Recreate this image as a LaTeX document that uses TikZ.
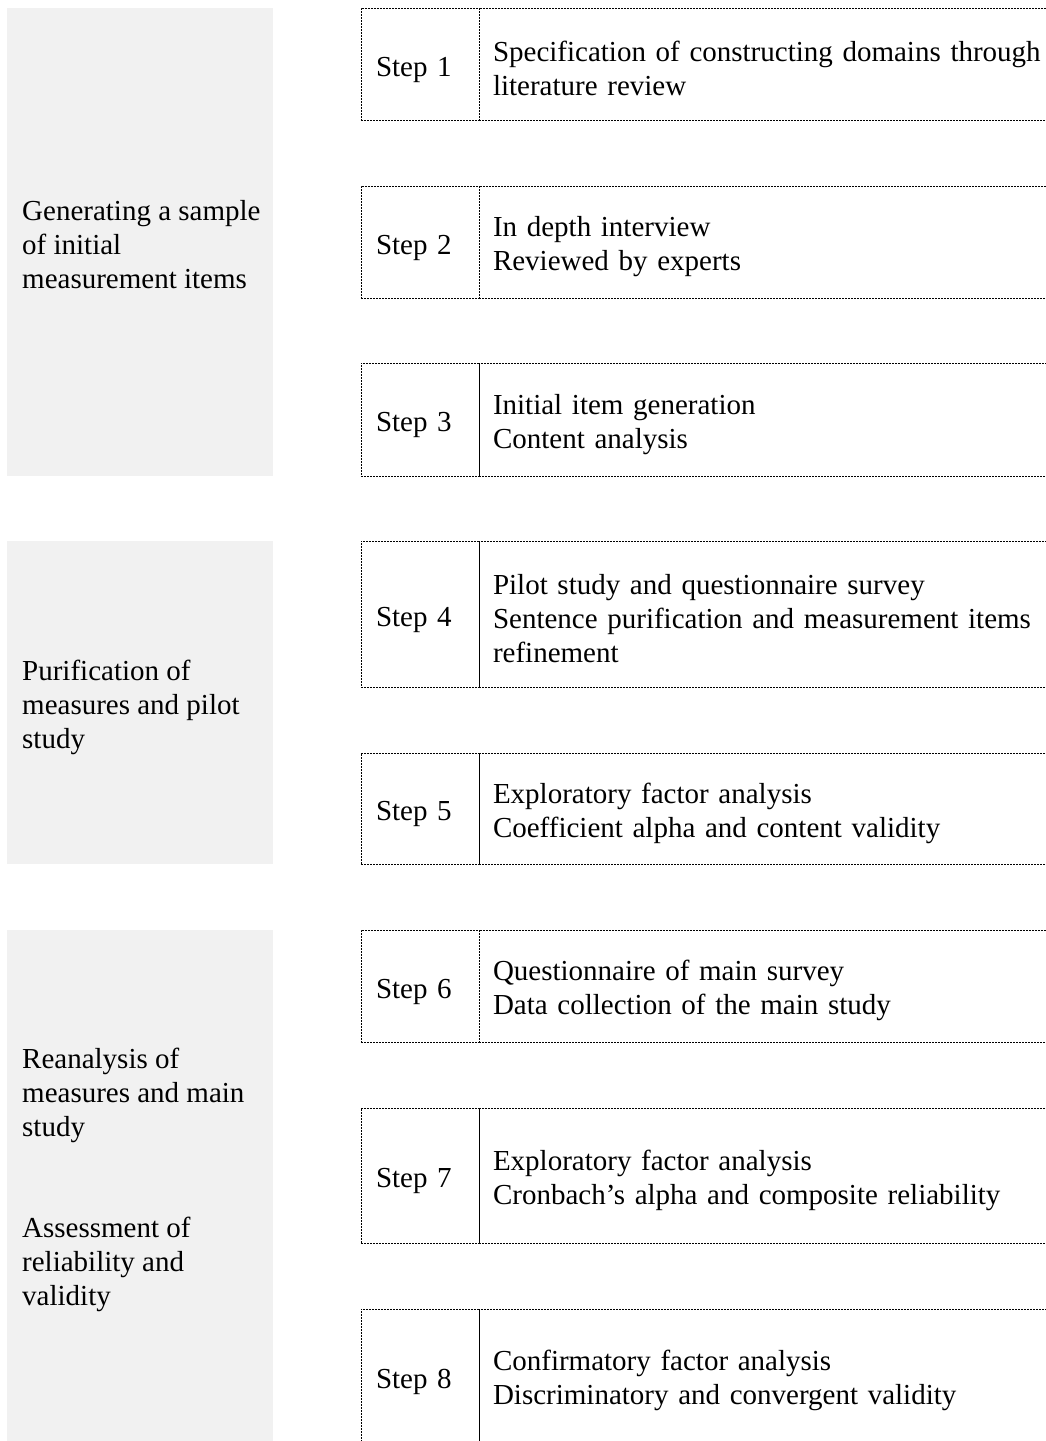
\documentclass[tikz,border=0pt]{standalone}
\usepackage{fontspec}
\setmainfont{Liberation Serif}
\usepackage{xcolor}
\usepackage{tikz}
\usetikzlibrary{positioning}
\definecolor{panelGray}{HTML}{F1F1F1}
\definecolor{ink}      {HTML}{000000}

\begin{document}
\begin{tikzpicture}[
  x=1pt, y=1pt,
  txt/.style={font=\fontsize{29}{34}\selectfont, text=ink},
  panel/.style={rectangle, fill=panelGray, draw=none, inner sep=0pt, outer sep=0pt,
                minimum width=266pt, anchor=north west},
  ptext/.style={txt, align=left, inner sep=0pt, anchor=west},
  stepbox/.style={rectangle, txt, draw=ink, line width=1pt, dash pattern=on 2pt off 1pt,
                  inner xsep=15pt, inner ysep=0pt, outer sep=0pt, text width=88pt,
                  align=left, anchor=north west, execute at begin node={\rule{0pt}{31pt}}},
  item/.style={rectangle, txt, draw=ink, line width=1pt, dash pattern=on 2pt off 1pt,
               inner xsep=14pt, inner ysep=0pt, outer sep=0pt, text width=600pt,
               align=left, anchor=north west, execute at begin node={\rule{0pt}{30pt}}}
]
\useasboundingbox (0,0) rectangle (1045,-1441);

% phases
\node[panel, minimum height=468pt] (gen) at (7,-8) {};
\node[panel, minimum height=323pt] (pur) at (7,-541) {};
\node[panel, minimum height=520pt] (rea) at (7,-930) {};

\node[ptext] (genT) at (22,-244.5) {Generating a sample\\ of initial\\ measurement items};
\node[ptext] (purT) at (22,-707) {Purification of\\ measures and pilot\\ study};
\node[ptext] (reaT) at (22,-1180) {Reanalysis of\\ measures and main\\ study\\[67pt]
   Assessment of\\ reliability and\\ validity};

% steps
\node[stepbox, minimum height=112pt] (s1) at (361,-8) {Step 1};
\node[item, minimum height=112pt] (t1) at (s1.north east) {Specification of constructing domains through\\ literature review};

\node[stepbox, minimum height=112pt] (s2) at (361,-186) {Step 2};
\node[item, minimum height=112pt] (t2) at (s2.north east) {In depth interview\\ Reviewed by experts};

\node[stepbox, minimum height=113pt] (s3) at (361,-363) {Step 3};
\node[item, minimum height=113pt] (t3) at (s3.north east) {Initial item generation\\ Content analysis};

\node[stepbox, minimum height=146pt] (s4) at (361,-541) {Step 4};
\node[item, minimum height=146pt] (t4) at (s4.north east) {Pilot study and questionnaire survey\\
   Sentence purification and measurement items\\ refinement};

\node[stepbox, minimum height=111pt] (s5) at (361,-753) {Step 5};
\node[item, minimum height=111pt] (t5) at (s5.north east) {Exploratory factor analysis\\ Coefficient alpha and content validity};

\node[stepbox, minimum height=112pt] (s6) at (361,-930) {Step 6};
\node[item, minimum height=112pt] (t6) at (s6.north east) {Questionnaire of main survey\\ Data collection of the main study};

\node[stepbox, minimum height=135pt] (s7) at (361,-1108) {Step 7};
\node[item, minimum height=135pt] (t7) at (s7.north east) {Exploratory factor analysis\\ Cronbach’s alpha and composite reliability};

\node[stepbox, minimum height=134pt] (s8) at (361,-1309) {Step 8};
\node[item, minimum height=134pt] (t8) at (s8.north east) {Confirmatory factor analysis\\ Discriminatory and convergent validity};
\end{tikzpicture}
\end{document}
